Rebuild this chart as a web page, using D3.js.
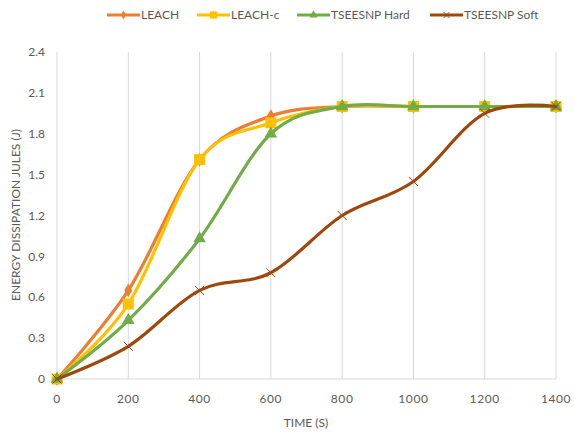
<!DOCTYPE html>
<html><head><meta charset="utf-8">
<script src="https://cdn.jsdelivr.net/npm/d3@7"></script>
<style>body{margin:0;background:#fff}svg{display:block}text{font-family:Lato,"Open Sans",sans-serif;fill:#595959}</style>
</head><body>
<svg id="c" width="574" height="432"></svg>
<script>
const times = [0, 200, 400, 600, 800, 1000, 1200, 1400];
const leach = [0, 0.65, 1.61, 1.93, 2.0, 2.0, 2.0, 2.0];
const leachC = [0, 0.55, 1.61, 1.88, 2.0, 2.0, 2.0, 2.0];
const hard = [0, 0.43, 1.03, 1.80, 2.0, 2.0, 2.0, 2.0];
const soft = [0, 0.24, 0.65, 0.78, 1.20, 1.45, 1.95, 2.0];
const yTicks = [0, 0.3, 0.6, 0.9, 1.2, 1.5, 1.8, 2.1, 2.4];
const seriesNames = ["LEACH", "LEACH-c", "TSEESNP Hard", "TSEESNP Soft"];
const seriesValues = [leach, leachC, hard, soft];
const colors = ["#ED7D31", "#FFC000", "#70AD47", "#9E480E"];
const markers = ["diamond", "square", "triangle", "cross"];

const svg = d3.select("#c");
const x = d3.scaleLinear().domain([0, 1400]).range([57, 556]);
const y = d3.scaleLinear().domain([0, 2.4]).range([379, 52]);

svg.append("g").selectAll("line").data(times).join("line")
  .attr("x1", d => x(d)).attr("x2", d => x(d)).attr("y1", y(2.4)).attr("y2", y(0))
  .attr("stroke", "#d9d9d9").attr("stroke-width", 1);
svg.append("line").attr("x1", x(0)).attr("x2", x(1400)).attr("y1", y(0)).attr("y2", y(0))
  .attr("stroke", "#d9d9d9");

svg.append("g").selectAll("text").data(yTicks).join("text")
  .attr("x", 45).attr("y", d => y(d)).attr("dy", "0.35em").attr("text-anchor", "end")
  .attr("font-size", 12).text(d => d === 0 ? "0" : d3.format(".1f")(d));
svg.append("g").selectAll("text").data(times).join("text")
  .attr("x", d => x(d)).attr("y", 399).attr("dy", "0.35em").attr("text-anchor", "middle")
  .attr("font-size", 12).attr("letter-spacing", 0.6).text(d => d);

svg.append("text").attr("transform", "translate(16,215) rotate(-90)").attr("text-anchor", "middle")
  .attr("dy", "0.35em").attr("font-size", 12).text("ENERGY DISSIPATION JULES (J)");
svg.append("text").attr("x", 306).attr("y", 423).attr("text-anchor", "middle")
  .attr("dy", "0.35em").attr("font-size", 12).text("TIME (S)");

const line = d3.line().x(d => x(d[0])).y(d => y(d[1])).curve(d3.curveCardinal.tension(0));

function drawMarker(g, type, cx, cy, color, s) {
  if (type === "diamond") {
    g.append("path").attr("d", d3.symbol(d3.symbolDiamond, 55 * s * s)()).attr("transform", `translate(${cx},${cy})`).attr("fill", color);
  } else if (type === "square") {
    const h = 5.5 * s;
    g.append("rect").attr("x", cx - h).attr("y", cy - h).attr("width", 2 * h).attr("height", 2 * h).attr("fill", color);
  } else if (type === "triangle") {
    g.append("path").attr("d", d3.symbol(d3.symbolTriangle, 70 * s * s)()).attr("transform", `translate(${cx},${cy})`).attr("fill", color);
  } else {
    const h = 4.5 * s;
    g.append("path").attr("d", `M${cx-h},${cy-h}L${cx+h},${cy+h}M${cx-h},${cy+h}L${cx+h},${cy-h}`)
      .attr("stroke", color).attr("stroke-width", 1).attr("fill", "none");
  }
}

seriesValues.forEach((vals, i) => {
  const pts = times.map((t, j) => [t, vals[j]]);
  const g = svg.append("g");
  g.append("path").attr("d", line(pts)).attr("fill", "none").attr("stroke", colors[i]).attr("stroke-width", 3.2)
    .attr("stroke-linecap", "round");
  pts.forEach(p => drawMarker(g, markers[i], x(p[0]), y(p[1]), colors[i], 1));
});

const legX = [107, 197, 297, 430];
const lg = svg.append("g");
seriesNames.forEach((n, i) => {
  lg.append("line").attr("x1", legX[i]).attr("x2", legX[i] + 33).attr("y1", 15).attr("y2", 15)
    .attr("stroke", colors[i]).attr("stroke-width", 3.2);
  drawMarker(lg.append("g"), markers[i], legX[i] + 16.5, 15, colors[i], 0.65);
  lg.append("text").attr("x", legX[i] + 34).attr("y", 15).attr("dy", "0.35em").attr("font-size", 12).text(n);
});
</script>
</body></html>
